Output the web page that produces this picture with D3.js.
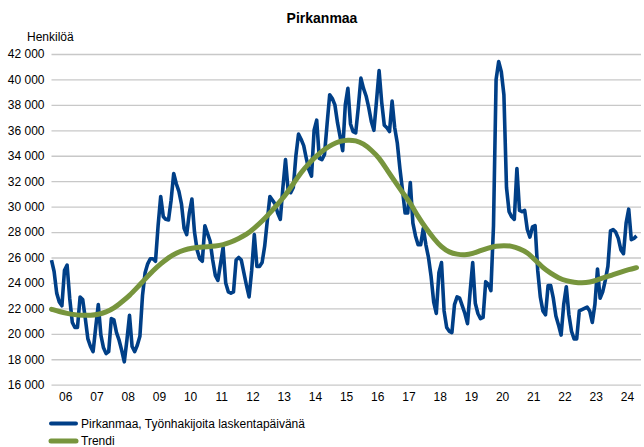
<!DOCTYPE html>
<html>
<head>
<meta charset="utf-8">
<script src="https://cdn.jsdelivr.net/npm/d3@7"></script>
<style>
  body { margin: 0; background: #fff; }
  svg { font-family: "Liberation Sans", Arial, sans-serif; }
  .grid line { stroke: #c8c8c8; stroke-width: 1.3px; }
  .grid text { font-size: 12px; fill: #000; }
</style>
</head>
<body>
<svg width="644" height="447"></svg>
<script>
// monthly job seekers, Jan 2006 .. Oct 2024
var jobSeekers = [
    25800, 24900, 23200, 22500, 22200, 25000, 25400, 22800, 20900, 20500, 20500, 22900, // 2006
    22700, 21200, 19600, 19000, 18600, 20500, 22300, 19900, 18900, 18450, 18600, 21200, // 2007
    21100, 20100, 19500, 18700, 17800, 19500, 21450, 19000, 18600, 19100, 19800, 23000, // 2008
    24800, 25500, 25900, 25900, 25700, 28500, 30800, 29200, 29000, 28950, 30500, 32600, // 2009
    31800, 31200, 30200, 28300, 27800, 29500, 30600, 28000, 26600, 25900, 25700, 28500, // 2010
    27900, 27300, 25800, 24600, 24200, 25500, 26800, 24000, 23300, 23200, 23300, 25800, // 2011
    26000, 25800, 24800, 23800, 22900, 25000, 27800, 25300, 25300, 25600, 26900, 28900, // 2012
    30800, 30500, 30200, 29500, 29000, 31500, 33700, 31300, 31100, 31500, 34000, 35700, // 2013
    35300, 34800, 33800, 32900, 32400, 36000, 36800, 33800, 33700, 34100, 36500, 38800, // 2014
    38500, 38000, 36600, 35500, 34400, 38000, 39300, 36500, 35900, 35800, 37800, 40100, // 2015
    39300, 38700, 37800, 36700, 36000, 38300, 40700, 38200, 36400, 36200, 35900, 38300, // 2016
    36200, 35000, 33000, 31300, 29500, 29500, 31900, 28700, 27700, 27000, 27000, 28300, // 2017
    27000, 26000, 24500, 22500, 21600, 24800, 25600, 21800, 20500, 20200, 20100, 22300, // 2018
    22900, 22800, 22200, 21600, 20800, 23300, 25600, 22400, 21600, 21200, 21300, 24100, // 2019
    23900, 23400, 28500, 40000, 41400, 40600, 38800, 31500, 29600, 29200, 29000, 33000, // 2020
    29700, 29600, 29700, 28200, 27600, 28400, 28500, 25000, 22900, 21800, 21500, 23800, // 2021
    23800, 22800, 21400, 20700, 19900, 22300, 23700, 21500, 20200, 19600, 19600, 21800, // 2022
    21900, 22000, 22100, 21800, 20900, 22300, 25100, 22800, 23300, 24200, 25300, 28100, // 2023
    28200, 28000, 27500, 26600, 26300, 28700, 29800, 27400, 27500, 27700              // 2024
];

// trend read every third month (Jan, Apr, Jul, Oct)
var trendStep = 3;
var trend = [
    21930, 21750, 21600, 21500, 21450, 21450, 21520, 21700, 22000, 22500,
    23000, 23650, 24300, 24950, 25500, 26000, 26350, 26600, 26750, 26800,
    26850, 26900, 27000, 27200, 27500, 27800, 28300, 28850, 29500, 30200,
    30900, 31800, 32700, 33400, 34000, 34500, 34900, 35150, 35250, 35200,
    34950, 34450, 33850, 32900, 32000, 31100, 30300, 29200, 28300, 27500,
    26800, 26400, 26250, 26200, 26300, 26550, 26750, 26900, 26950, 26900,
    26700, 26400, 25800, 25200, 24750, 24400, 24150, 24050, 24000, 24050,
    24250, 24450, 24650, 24850, 25050, 25200
];

var yearLabels = ['06', '07', '08', '09', '10', '11', '12', '13', '14', '15',
    '16', '17', '18', '19', '20', '21', '22', '23', '24'];
var yTicks = d3.range(16000, 42001, 2000);
var seriesNames = ['Pirkanmaa, Työnhakijoita laskentapäivänä', 'Trendi'];
var colors = ['#003f87', '#77953d'];

var svg = d3.select('svg');
var plotLeft = 51.5, plotRight = 641, plotTop = 54, plotBottom = 384.7;

var x = d3.scaleLinear()
    .domain([0, jobSeekers.length - 1])
    .range([plotLeft, plotLeft + 2.6 * (jobSeekers.length - 1)]);

var y = d3.scaleLinear()
    .domain([16000, 42000])
    .range([plotBottom, plotTop]);

// horizontal grid + y labels
svg.append('g')
    .attr('class', 'grid')
    .attr('transform', 'translate(' + plotLeft + ',0)')
    .call(d3.axisLeft(y)
        .tickValues(yTicks)
        .tickSize(-(plotRight - plotLeft))
        .tickPadding(7)
        .tickFormat(function(d) { return d3.format(',')(d).replace(',', ' '); }))
    .call(function(g) { g.select('.domain').remove(); });

// year labels, centred on each year
svg.append('g')
    .selectAll('text')
    .data(yearLabels)
    .enter().append('text')
    .attr('x', function(d, i) { return x(i * 12 + 5.5); })
    .attr('y', 401)
    .attr('text-anchor', 'middle')
    .style('font-size', '12px')
    .text(function(d) { return d; });

svg.append('text')
    .attr('x', 27)
    .attr('y', 41)
    .style('font-size', '12px')
    .text('Henkilöä');

svg.append('text')
    .attr('x', 322)
    .attr('y', 23)
    .attr('text-anchor', 'middle')
    .style('font-size', '14px')
    .style('font-weight', 'bold')
    .text('Pirkanmaa');

var line = d3.line()
    .x(function(d, i) { return x(i); })
    .y(function(d) { return y(d); });

var trendLine = d3.line()
    .x(function(d, i) { return x(i * trendStep); })
    .y(function(d) { return y(d); })
    .curve(d3.curveBasis);

svg.append('path')
    .datum(jobSeekers)
    .attr('fill', 'none')
    .attr('stroke', colors[0])
    .attr('stroke-width', 3.6)
    .attr('stroke-linejoin', 'round')
    .attr('d', line);

svg.append('path')
    .datum(trend)
    .attr('fill', 'none')
    .attr('stroke', colors[1])
    .attr('stroke-width', 5)
    .attr('stroke-linecap', 'round')
    .attr('d', trendLine);

// legend
var legend = svg.append('g')
    .selectAll('g')
    .data(seriesNames)
    .enter().append('g')
    .attr('transform', function(d, i) { return 'translate(0,' + (423.5 + i * 17.5) + ')'; });

legend.append('line')
    .attr('x1', 51).attr('x2', 76)
    .attr('stroke', function(d, i) { return colors[i]; })
    .attr('stroke-width', function(d, i) { return i ? 5 : 4; })
    .attr('stroke-linecap', 'round');

legend.append('text')
    .attr('x', 81)
    .attr('y', 4)
    .style('font-size', '12px')
    .text(function(d) { return d; });
</script>
</body>
</html>
